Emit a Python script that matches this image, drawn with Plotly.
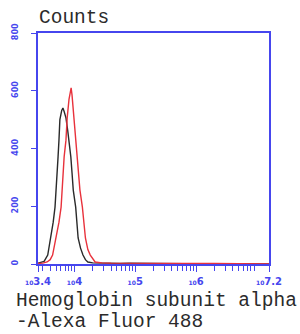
import plotly.graph_objects as go

# ---- data (log10 fluorescence, counts) ----
black_log = [3.40, 3.45, 3.50, 3.56, 3.61, 3.65, 3.68, 3.70, 3.71, 3.73, 3.745, 3.76, 3.79, 3.81,
             3.83, 3.86, 3.89, 3.91, 3.94, 3.96, 3.98, 4.02, 4.04, 4.06, 4.10, 4.14, 4.18, 4.22,
             4.30, 4.45, 4.60, 4.75, 4.90, 5.10, 5.40, 5.80, 6.20, 6.60, 7.20]
black_counts = [3, 5, 9, 31, 90, 145, 197, 256, 315, 371, 429, 500, 532, 540,
                528, 506, 460, 429, 371, 315, 256, 197, 145, 90, 55, 31, 15, 7,
                4, 3, 3, 2, 3, 2, 1, 1, 1, 0, 0]

red_log = [3.40, 3.48, 3.55, 3.60, 3.64, 3.70, 3.745, 3.78, 3.795, 3.81, 3.83, 3.86, 3.88, 3.91,
           3.935, 3.945, 3.96, 3.99, 4.025, 4.04, 4.06, 4.09, 4.13, 4.15, 4.18, 4.22, 4.26, 4.34,
           4.45, 4.60, 4.80, 5.00, 5.20, 5.40, 5.50, 5.70, 6.00, 6.30, 6.70, 7.20]
red_counts = [2, 3, 7, 15, 31, 90, 145, 197, 256, 315, 371, 429, 506, 570,
              605, 610, 585, 506, 429, 371, 315, 256, 197, 145, 90, 50, 31, 7,
              4, 3, 3, 2, 3, 4, 3, 2, 4, 2, 1, 0]

x_tick_exp = [3.4, 4, 5, 6, 7.2]
x_tick_labels = ["3.4", "4", "5", "6", "7.2"]
y_ticks = [0, 200, 400, 600, 800]

x_title_1 = "Hemoglobin subunit alpha"
x_title_2 = "-Alexa Fluor 488"
y_title = "Counts"

AXIS = "#4646ee"

black_x = [10 ** v for v in black_log]
red_x = [10 ** v for v in red_log]

fig = go.Figure()
fig.add_trace(go.Scatter(x=black_x, y=black_counts, mode="lines",
                         line=dict(color="#2a2a2a", width=1.4), showlegend=False))
fig.add_trace(go.Scatter(x=red_x, y=red_counts, mode="lines",
                         line=dict(color="#e8323c", width=1.4), showlegend=False))

minor_vals = []
for d in range(3, 8):
    for m in range(2, 10):
        v = m * 10 ** d
        if 10 ** 3.4 < v < 10 ** 7.2:
            minor_vals.append(v)

fig.update_xaxes(
    type="log", range=[3.4, 7.2], automargin=False,
    tickmode="array", tickvals=[10 ** e for e in x_tick_exp],
    ticktext=["<span style='font-size:6px'>10</span>" + t for t in x_tick_labels],
    ticks="outside", ticklen=6, tickcolor=AXIS, tickwidth=1.2, ticklabelstandoff=1,
    minor=dict(tickmode="array", tickvals=minor_vals, ticks="outside", ticklen=5,
               tickcolor=AXIS, tickwidth=1.2),
    showline=True, linecolor=AXIS, linewidth=1.5, mirror=True,
    showgrid=False, zeroline=False,
    tickfont=dict(family="DejaVu Sans", size=10, color=AXIS, weight="bold"),
)
fig.update_yaxes(
    range=[0, 800], tickmode="array", tickvals=y_ticks, automargin=False,
    ticks="outside", ticklen=5, tickcolor=AXIS, tickwidth=1.2,
    tickangle=-90, ticklabelstandoff=10,
    showline=True, linecolor=AXIS, linewidth=1.5, mirror=True,
    showgrid=False, zeroline=False,
    tickfont=dict(family="DejaVu Sans", size=8, color=AXIS, weight="bold"),
)

TXT = dict(family="Liberation Mono", size=19.5, color="#2b2b2b")
fig.add_annotation(text=y_title, xref="paper", yref="paper", x=-0.005, y=1.065,
                   xanchor="left", yanchor="middle", showarrow=False, font=TXT)
fig.add_annotation(text=x_title_1, xref="paper", yref="paper", x=-0.104, y=-0.160,
                   xanchor="left", yanchor="middle", showarrow=False, font=TXT)
fig.add_annotation(text=x_title_2, xref="paper", yref="paper", x=-0.104, y=-0.251,
                   xanchor="left", yanchor="middle", showarrow=False, font=TXT)

fig.update_layout(
    width=300, height=334,
    margin=dict(l=38, r=31, t=33, b=70, autoexpand=False),
    paper_bgcolor="white", plot_bgcolor="white",
)

fig.write_html("out.html", config={"displayModeBar": False},
               post_script="document.body.style.margin='0';document.body.style.overflow='hidden';")
